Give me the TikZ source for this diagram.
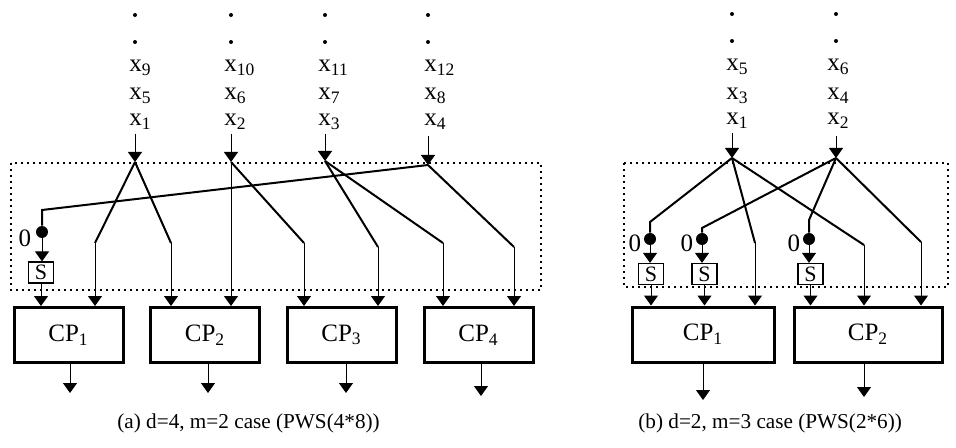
\documentclass[tikz,border=0pt]{standalone}
\usepackage{fontspec}
\setmainfont{Liberation Serif}
\usetikzlibrary{arrows.meta, positioning}
\tikzset{
  cpbox/.style={rectangle, draw, line width=1.5pt, minimum width=54.5pt,
    minimum height=27.5pt, inner sep=0pt, font=\fontsize{12.5}{14}\selectfont},
  sbox/.style={rectangle, draw, line width=0.6pt, minimum width=12.5pt,
    minimum height=10.5pt, inner sep=0pt, font=\fontsize{11}{12}\selectfont},
  zdot/.style={circle, fill, inner sep=0pt, minimum size=6pt},
  sdot/.style={circle, fill, inner sep=0pt, minimum size=2pt},
  xlab/.style={anchor=west, inner sep=0pt, font=\fontsize{12.5}{14}\selectfont},
  zlab/.style={inner sep=0pt, font=\fontsize{12.5}{14}\selectfont},
  wire/.style={line width=1pt},
  feed/.style={-{Triangle[length=5pt,width=7pt]}, line width=0.5pt},
  frame/.style={line width=1.2pt, dash pattern=on 1pt off 2pt},
  caption/.style={anchor=west, inner sep=0pt, font=\fontsize{10.6}{12}\selectfont}
}
\begin{document}
\begin{tikzpicture}[x=0.5pt, y=-0.5pt]
  \useasboundingbox (0,0) rectangle (956,448);

  % ---- (a) d=4, m=2 ----
  \node[sdot] at (135,15) {}; \node[sdot] at (135,42) {};
  \node[sdot] at (231,15) {}; \node[sdot] at (231,42) {};
  \node[sdot] at (325,15) {}; \node[sdot] at (325,42) {};
  \node[sdot] at (428,15) {}; \node[sdot] at (428,42) {};

  \node[xlab] at (129,68) {x\textsubscript{9}};
  \node[xlab] at (129,96) {x\textsubscript{5}};
  \node[xlab] (la1) at (129,122) {x\textsubscript{1}};
  \node[xlab] at (224,68) {x\textsubscript{10}};
  \node[xlab] at (224,96) {x\textsubscript{6}};
  \node[xlab] (la2) at (224,122) {x\textsubscript{2}};
  \node[xlab] at (318,68) {x\textsubscript{11}};
  \node[xlab] at (318,96) {x\textsubscript{7}};
  \node[xlab] (la3) at (318,122) {x\textsubscript{3}};
  \node[xlab] at (424,68) {x\textsubscript{12}};
  \node[xlab] at (424,96) {x\textsubscript{8}};
  \node[xlab] (la4) at (424,122) {x\textsubscript{4}};

  \coordinate (sa1) at (135,162);
  \coordinate (sa2) at (231,162);
  \coordinate (sa3) at (325,161);
  \coordinate (sa4) at (428,165);
  \draw[feed] (135,134) -- (sa1);
  \draw[feed] (231,134) -- (sa2);
  \draw[feed] (325,134) -- (sa3);
  \draw[feed] (428,136) -- (sa4);

  \draw[frame] (11,163) rectangle (541,290);

  \node[cpbox] (cpa1) at (68.5,335) {CP\textsubscript{1}};
  \node[cpbox] (cpa2) at (205,335) {CP\textsubscript{2}};
  \node[cpbox] (cpa3) at (341.5,335) {CP\textsubscript{3}};
  \node[cpbox] (cpa4) at (478.5,335) {CP\textsubscript{4}};

  \coordinate (ba0) at (42,210);
  \coordinate (ba1) at (95,243);
  \coordinate (ba2) at (171,243);
  \coordinate (ba3) at (304,243);
  \coordinate (ba4) at (378,247);
  \coordinate (ba5) at (443,243);
  \coordinate (ba6) at (514,247);

  \node[zdot] (da) at (42,232) {};
  \node[zlab, left=2pt of da, yshift=-3pt] {0};
  \node[sbox] (ssa) at (41,272.5) {S};

  \draw[wire] (sa4) -- (ba0) -- (da);
  \draw[feed] (da) -- (da |- ssa.north);
  \draw[feed] (ssa) -- (ssa |- cpa1.north);

  \draw[wire] (sa1) -- (ba1);
  \draw[wire] (sa1) -- (ba2);
  \draw[wire] (sa2) -- (ba3);
  \draw[wire] (sa3) -- (ba4);
  \draw[wire] (sa3) -- (ba5);
  \draw[wire] (sa4) -- (ba6);
  \draw[feed] (ba1) -- (ba1 |- cpa1.north);
  \draw[feed] (ba2) -- (ba2 |- cpa2.north);
  \draw[feed] (sa2) -- (sa2 |- cpa2.north);
  \draw[feed] (ba3) -- (ba3 |- cpa3.north);
  \draw[feed] (ba4) -- (ba4 |- cpa3.north);
  \draw[feed] (ba5) -- (ba5 |- cpa4.north);
  \draw[feed] (ba6) -- (ba6 |- cpa4.north);

  \coordinate (oa1) at (70,393);
  \coordinate (oa2) at (208,393);
  \coordinate (oa3) at (346,393);
  \coordinate (oa4) at (481,396);
  \draw[feed] (oa1 |- cpa1.south) -- (oa1);
  \draw[feed] (oa2 |- cpa2.south) -- (oa2);
  \draw[feed] (oa3 |- cpa3.south) -- (oa3);
  \draw[feed] (oa4 |- cpa4.south) -- (oa4);

  \node[caption] at (117,423) {(a) d=4, m=2 case (PWS(4*8))};

  % ---- (b) d=2, m=3 ----
  \node[sdot] at (732,14) {}; \node[sdot] at (732,41) {};
  \node[sdot] at (836,14) {}; \node[sdot] at (836,41) {};

  \node[xlab] at (726,67) {x\textsubscript{5}};
  \node[xlab] at (726,96) {x\textsubscript{3}};
  \node[xlab] (lb1) at (726,121) {x\textsubscript{1}};
  \node[xlab] at (827,67) {x\textsubscript{6}};
  \node[xlab] at (827,96) {x\textsubscript{4}};
  \node[xlab] (lb2) at (827,121) {x\textsubscript{2}};

  \coordinate (sb1) at (732,158);
  \coordinate (sb2) at (836,158);
  \draw[feed] (732,133) -- (sb1);
  \draw[feed] (836,136) -- (sb2);

  \draw[frame] (624,163) rectangle (948,287);

  \node[cpbox, minimum width=71pt] (cpb1) at (703,334.5) {CP\textsubscript{1}};
  \node[cpbox, minimum width=74pt] (cpb2) at (868,334.5) {CP\textsubscript{2}};

  \coordinate (bb1) at (650,222);
  \coordinate (bb2) at (755,243);
  \coordinate (bb3) at (864,245);
  \coordinate (bb4) at (702,228);
  \coordinate (bb5) at (809,220);
  \coordinate (bb6) at (921,242);

  \node[zdot] (db1) at (650,239) {};
  \node[zdot] (db2) at (702,239) {};
  \node[zdot] (db3) at (809,239) {};
  \node[zlab, left=1pt of db1, yshift=-2pt] {0};
  \node[zlab, left=1pt of db2, yshift=-2pt] {0};
  \node[zlab, left=1pt of db3, yshift=-2pt] {0};
  \node[sbox] (ssb1) at (651,274) {S};
  \node[sbox] (ssb2) at (704.5,274) {S};
  \node[sbox] (ssb3) at (810.5,274) {S};

  \draw[wire] (sb1) -- (bb1) -- (db1);
  \draw[wire] (sb1) -- (bb2);
  \draw[wire] (sb1) -- (bb3);
  \draw[wire] (sb2) -- (bb4) -- (db2);
  \draw[wire] (sb2) -- (bb5) -- (db3);
  \draw[wire] (sb2) -- (bb6);

  \draw[feed] (db1) -- (db1 |- ssb1.north);
  \draw[feed] (db2) -- (db2 |- ssb2.north);
  \draw[feed] (db3) -- (db3 |- ssb3.north);
  \draw[feed] (ssb1) -- (ssb1 |- cpb1.north);
  \draw[feed] (ssb2) -- (ssb2 |- cpb1.north);
  \draw[feed] (ssb3) -- (ssb3 |- cpb2.north);
  \draw[feed] (bb2) -- (bb2 |- cpb1.north);
  \draw[feed] (bb3) -- (bb3 |- cpb2.north);
  \draw[feed] (bb6) -- (bb6 |- cpb2.north);

  \coordinate (ob1) at (703,400);
  \coordinate (ob2) at (864,397);
  \draw[feed] (ob1 |- cpb1.south) -- (ob1);
  \draw[feed] (ob2 |- cpb2.south) -- (ob2);

  \node[caption] at (638,423) {(b) d=2, m=3 case (PWS(2*6))};
\end{tikzpicture}
\end{document}
